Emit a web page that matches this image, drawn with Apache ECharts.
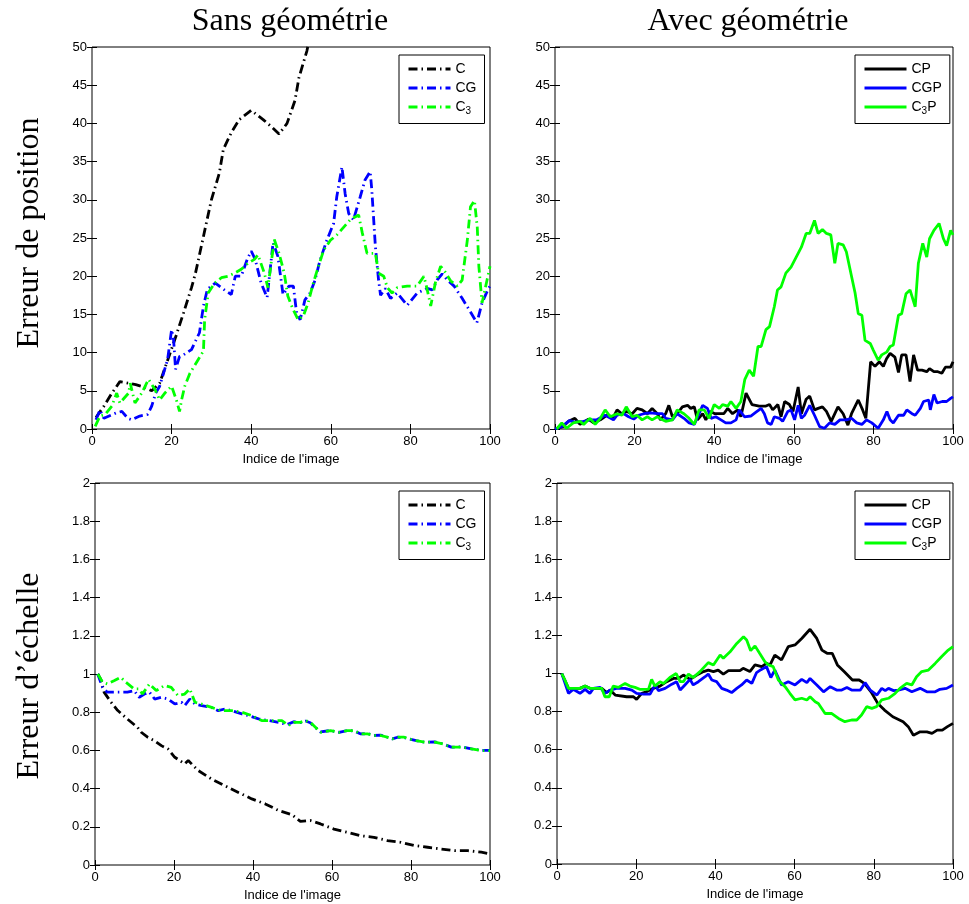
<!DOCTYPE html>
<html>
<head>
<meta charset="utf-8">
<script src="https://cdn.jsdelivr.net/npm/echarts@6/dist/echarts.min.js"></script>
<style>
  html, body { margin: 0; padding: 0; background: #fff; }
  #chart { width: 969px; height: 904px; }
</style>
</head>
<body>
<div id="chart"></div>
<script>
// Position error (top row), frame index vs error
const posC = [[1,1.5],[3,3],[5,4.7],[7,6.2],[9,6],[11,5.8],[13,5.5],[15,5],[17,6],[19,9],[21,12],[23,15.2],[25,18.5],[26,20.4],[28,25.2],[30,30],[32,33.5],[33,36.6],[35,38.8],[37,40.5],[40,41.7],[43,40.5],[45,39.6],[47,38.6],[49,40],[51,43],[52,46],[54,49.5],[55,52]];
const posCG = [[1,1.2],[2,2.5],[3,1.4],[6,2.1],[7.5,2.3],[9,1.4],[10,1.2],[12,1.7],[14,1.9],[15,3],[16,4.7],[17,5.6],[19,9.1],[20,13],[20.5,11.7],[21,7.8],[22,9.5],[23,9.7],[25,10.4],[27,12.6],[28,16.1],[29,18.3],[31,19.1],[33,18.3],[35,17.6],[36,20],[37.5,20],[39,22.2],[40,23.3],[41,22.2],[42.5,19.1],[44,17.2],[45.5,24.4],[46.7,22.6],[48,17.6],[49.5,18.7],[50.6,18.7],[51.4,15.2],[52.3,14.3],[53.5,16.9],[54.8,17.8],[56,19.4],[57.3,22.1],[59,24.7],[60.7,26.9],[61.5,30.4],[62.8,34.3],[63.6,30.8],[64.5,28.2],[65.7,27.4],[67.4,30.4],[68.6,32.6],[69.9,33.7],[70.3,31.3],[71.2,23.9],[72,19.5],[72.5,17.5],[73.7,18.4],[75,17.1],[76.7,17.8],[79.2,16.2],[81.7,17.8],[84.2,18.4],[85.5,18.2],[86.7,19.5],[88,20.3],[89.3,19.5],[91,18.7],[93,17.1],[95,15.4],[96.7,13.9],[98,16.5],[99.6,18.4],[100,18.7]];
const posC3 = [[0.8,0.35],[2,1.7],[3.3,1.9],[5,3],[6.2,4.7],[7,3.4],[9.2,4.7],[9.6,6],[10.8,3.4],[12.5,4.7],[14.2,6.5],[15.8,5.2],[17,3.8],[18.3,4.7],[20,5.6],[21.2,3.8],[22,2.3],[22.5,3.8],[23.3,5.6],[24.6,7.3],[26.7,9.1],[28,10.2],[28.3,14.3],[29.2,17.8],[30.8,19.1],[32.5,19.8],[34.2,20],[35.8,20.4],[37.5,20.9],[39.2,21.7],[40.8,22.2],[41.7,22.8],[43.3,20.4],[44.2,18.5],[45.8,24.8],[47,23],[48.3,20.4],[49.2,17.4],[50.4,15.8],[51.8,14.3],[53.1,14.8],[54.3,16.5],[55.6,19.1],[56.9,21.3],[58.2,23.4],[59.9,24.7],[61.5,25.4],[63.2,26.4],[64.9,27.4],[67,28],[67.9,25.7],[69.1,23],[71.2,23],[72,20.4],[73.3,20],[74.2,18.5],[75.4,17.8],[76.7,18.5],[79.2,18.7],[81.7,18.7],[83.4,20],[84.2,18.3],[85.1,16.1],[86.3,19.2],[87.6,21.3],[88.8,20.5],[90.1,19.4],[91.8,18.7],[93,19.5],[94.3,24.7],[95.1,29.1],[96.1,29.9],[96.8,26.4],[97.2,21.3],[98,16.5],[99.3,19.6],[100,21.3]];

const posCP = [[0,0],[2,0.3],[3.4,1],[5,1.4],[6.3,0.6],[8.4,1.3],[9.7,0.8],[11.4,1.2],[13,1.8],[14.7,1.6],[15.6,2.5],[16.8,2],[18,2.3],[19.4,2],[20.6,2.7],[21.9,2.5],[23.2,2],[24.4,2.7],[25.7,2],[26.5,1.2],[27.8,2],[28.6,3.1],[29.5,1.6],[30.7,2],[32,2.9],[33.3,3.1],[34.1,2.7],[35,2.9],[35.8,1.2],[37.1,2],[37.9,1.2],[39,2.3],[40.2,2],[41.3,2],[42.4,2],[43.4,2.7],[44.6,2],[45.9,2.5],[46.7,1.6],[48,4.7],[49.5,3.2],[51.3,3],[53,3],[53.9,3.2],[54.7,2.5],[56,3.2],[56.8,1.6],[57.7,3.6],[58.9,3.2],[59.8,2.3],[61.1,5.5],[61.9,2],[63.1,3.9],[64,4.3],[65.2,2.5],[66.1,2.7],[67.2,2.9],[68.2,2.3],[69.4,1],[71.1,2.9],[72.4,2],[73.6,0.5],[74.5,2],[76.2,3.8],[77.3,2.5],[78.1,1.4],[79.3,8.8],[80.4,8.2],[81.5,8.8],[82.5,8.2],[83.3,9.2],[84.2,9.9],[85.4,9.4],[86.3,7.4],[87.1,9.7],[88.2,9.7],[89.2,6.2],[90.1,9.7],[91.1,7.7],[92.2,7.7],[93.4,7.5],[94.1,7.9],[95.2,7.5],[96.2,7.5],[97.2,7.3],[98.1,8.1],[99.4,8.1],[100,8.8]];
const posCGP = [[0,0],[1.7,0.3],[3.6,1.1],[5,0.9],[7.2,1],[8.8,1.2],[10.5,1.2],[12.6,1.8],[14.7,1.2],[15.6,1.8],[17.3,2],[18.5,1.6],[19.8,1.3],[21,1.8],[22.3,2],[24,2.1],[25.7,2],[27,2],[27.8,1.4],[29.5,1.2],[30.7,2],[32.4,1.4],[33.7,0.8],[35,0.6],[36.2,2],[37.1,3.1],[38.3,2.7],[39.2,1.4],[40.4,1.6],[41.7,1.2],[42.9,0.8],[44.2,0.8],[45.5,1.2],[46.3,2.5],[47.6,1.6],[49.2,1.7],[50.5,2.2],[51.8,2.7],[52.6,2],[53.4,0.8],[54.3,0.6],[55.1,1.6],[56.4,1.4],[57.2,1],[58.5,2.3],[59.3,2.5],[60.2,1.2],[61.1,3.1],[61.9,1.4],[62.7,1.8],[64,3.1],[65.2,1.8],[66.5,0.3],[67.7,0.1],[69,0.8],[70.3,0.6],[71.6,1.2],[73.2,1.2],[74.5,1.4],[75.8,0.8],[77.1,0.6],[78.3,1.2],[79.6,0.8],[81.2,0.1],[82.5,1.2],[83.4,2.3],[84.2,1.2],[85,0.8],[86.3,1.8],[87.6,1.8],[88.4,2.5],[89.7,2],[90.5,1.8],[91.8,2.7],[92.6,3.6],[93.9,3.8],[94.3,2.5],[95.2,4.5],[96,3.4],[97.3,3.6],[98.4,3.6],[99.4,4],[100,4.2]];
const posC3P = [[0.4,0],[1.7,0.8],[2.9,0.1],[4.6,0.8],[6.3,1],[7.2,0.6],[8.8,1.4],[10.1,0.6],[11.4,1.4],[12.6,2.5],[13.9,1.6],[15.6,2],[16.8,1.8],[17.9,2.9],[19.4,1.6],[20.6,1.8],[21.9,1.2],[23.2,1.6],[24.4,1.2],[25.7,1.6],[27,1.2],[27.8,1],[29.5,1.2],[30.7,2.5],[32.4,2],[33.7,1.4],[35,0.6],[36.2,2.5],[37.5,2.5],[38.7,1.4],[40,3.2],[41.3,2.7],[42.1,3.2],[43.4,3],[44.2,3.6],[45.5,2.7],[46.7,3.6],[47.7,6.5],[48.8,7.7],[49.9,6.9],[51,10.8],[51.8,10.8],[53,13],[53.9,13.4],[55.1,16],[55.9,18.2],[56.8,18.6],[58,20.4],[59.3,21.2],[60.6,22.5],[61.9,23.8],[63.1,25.6],[64,25.6],[65.2,27.3],[66.1,25.6],[67.2,26.1],[68.2,25.6],[69.3,25.4],[70.3,21.7],[71.1,24.3],[72.4,24.1],[73.2,23.2],[74.5,20],[75.4,17.8],[76.2,15.1],[77.1,14.9],[77.9,11.6],[79.2,11.2],[80,10.3],[81.2,9],[82.1,9.7],[83.4,10.1],[84.2,10.8],[85,11],[86.3,14.9],[87.1,15.1],[88.2,17.7],[89.2,18.2],[90.5,16],[91.3,21.7],[92.4,24.3],[93.4,22.5],[94.1,24.9],[95.2,26],[96.5,26.9],[97.6,24.9],[98.4,24],[99.4,26],[100,25.4]];

// Scale error (bottom row)
const scaleC = [[0.7,1],[1.5,0.97],[2.3,0.905],[4,0.854],[5.7,0.81],[8.2,0.764],[10.8,0.72],[11.7,0.695],[13.4,0.668],[15.1,0.65],[16.8,0.625],[18.5,0.607],[20.2,0.564],[22.7,0.53],[23.6,0.547],[26.1,0.495],[29.5,0.45],[32.9,0.415],[36.3,0.38],[39.7,0.346],[43.1,0.32],[46.5,0.285],[49.9,0.263],[52,0.228],[54.5,0.233],[57.1,0.215],[60.5,0.188],[63.9,0.171],[67.3,0.153],[70.6,0.145],[74,0.128],[77.4,0.119],[80.8,0.102],[84.2,0.093],[87.6,0.084],[91,0.075],[94.4,0.075],[97.8,0.067],[100,0.058]];
const scaleCG = [[0.7,1],[1.9,0.93],[3.1,0.905],[5.7,0.905],[8.2,0.905],[9.9,0.913],[11.2,0.878],[12.5,0.895],[13.8,0.905],[15.1,0.869],[16.8,0.878],[18.5,0.869],[20.2,0.843],[21.9,0.852],[22.7,0.834],[24,0.869],[25.3,0.843],[27,0.834],[29.5,0.825],[31.2,0.808],[32.9,0.817],[34.6,0.808],[37.2,0.791],[38.9,0.782],[41.4,0.765],[44,0.756],[46.5,0.747],[48.6,0.735],[50.3,0.75],[52,0.745],[53.3,0.754],[54.5,0.745],[55.8,0.72],[57.1,0.697],[59.6,0.704],[61.8,0.695],[63.9,0.704],[65.6,0.702],[67.3,0.686],[69,0.688],[70.6,0.678],[72.3,0.68],[74,0.669],[75.3,0.66],[76.6,0.669],[78.3,0.667],[79.6,0.66],[81.3,0.651],[83.4,0.643],[86,0.645],[88.1,0.634],[90.2,0.617],[92.8,0.619],[95.3,0.608],[97.8,0.6],[100,0.6]];
const scaleC3 = [[0.7,1],[1.9,0.957],[3.1,0.948],[4.8,0.965],[6.5,0.983],[7.8,0.957],[9.9,0.922],[11.2,0.922],[12,0.895],[13.8,0.948],[15.5,0.913],[17.6,0.94],[19.3,0.93],[21,0.887],[22.7,0.895],[24,0.922],[25.3,0.852],[27,0.843],[29.5,0.825],[32,0.808],[34.6,0.808],[37.2,0.8],[39.7,0.782],[42.2,0.756],[44.8,0.756],[47.3,0.756],[49,0.73],[50.3,0.747],[52,0.747],[53.3,0.756],[54.5,0.747],[55.8,0.721],[57.1,0.695],[59.6,0.704],[61.8,0.695],[63.9,0.704],[65.6,0.704],[67.3,0.686],[69,0.686],[70.6,0.678],[72.3,0.678],[74,0.669],[75.3,0.66],[76.6,0.669],[78.3,0.669],[79.6,0.66],[81.3,0.651],[83.4,0.643],[86,0.643],[88.1,0.634],[90.2,0.617],[92.8,0.617],[95.3,0.608],[97.8,0.599],[100,0.599]];

const scaleCP = [[1.2,1],[2.9,0.922],[4.5,0.922],[5.8,0.922],[7.1,0.934],[8.3,0.922],[10,0.922],[11.3,0.922],[12.5,0.9],[13.4,0.913],[14.7,0.887],[15,0.878],[17.6,0.878],[19.3,0.878],[20.1,0.864],[21.4,0.896],[22.6,0.904],[24.3,0.922],[26,0.934],[27.7,0.957],[29.4,0.974],[30.7,0.974],[31.9,0.992],[33.6,0.969],[35.3,0.992],[37,1.01],[38.2,1.018],[39.5,1.01],[40.7,1.018],[42,0.997],[43.3,1.015],[44.5,1.015],[46.2,1.015],[47,1.027],[48.7,1.01],[50,1.045],[51.7,1.036],[52.9,1.053],[53.8,1.045],[55,1.097],[56.7,1.071],[58.4,1.141],[60.1,1.15],[61.8,1.184],[63.9,1.232],[65.6,1.184],[66.9,1.123],[68.2,1.106],[69.5,1.106],[70.8,1.045],[72.5,1.01],[74.6,0.966],[76.3,0.966],[77.6,0.948],[79.3,0.904],[81,0.843],[82.7,0.808],[84.8,0.773],[87.4,0.747],[88.7,0.721],[90,0.676],[91.7,0.694],[93.4,0.694],[94.7,0.686],[96,0.703],[97.3,0.703],[98.6,0.721],[100,0.738]];
const scaleCGP = [[1.2,1],[2.9,0.896],[4.1,0.917],[5.8,0.896],[7.1,0.917],[8.3,0.896],[9.2,0.922],[10.9,0.927],[12.1,0.896],[13.4,0.913],[15,0.922],[17.2,0.922],[18.9,0.913],[20.1,0.896],[21.8,0.892],[23.5,0.892],[24.8,0.94],[25.6,0.91],[27.3,0.922],[29,0.944],[30.2,0.957],[31.1,0.913],[32.3,0.94],[33.6,0.969],[34.4,0.94],[35.7,0.957],[37.4,0.983],[38.2,0.997],[39.1,0.966],[40.3,0.957],[41.6,0.922],[42.8,0.913],[44.1,0.9],[45.4,0.922],[46.6,0.94],[47.9,0.966],[49.2,0.948],[50.4,1.005],[51.5,1.02],[52.9,1.036],[54,0.979],[55,1.018],[56.7,0.94],[58.4,0.957],[60.1,0.94],[61.8,0.969],[63.1,0.952],[63.9,0.974],[65.6,0.94],[67.3,0.904],[69,0.931],[70.6,0.913],[71.9,0.913],[73.2,0.927],[74.4,0.913],[76.6,0.913],[77.8,0.952],[79.1,0.913],[80.8,0.887],[82,0.922],[82.9,0.91],[83.7,0.922],[85,0.91],[86.2,0.913],[87.9,0.922],[89.6,0.904],[91.7,0.922],[93.4,0.904],[95.5,0.904],[96.7,0.917],[98.4,0.922],[100,0.94]];
const scaleC3P = [[1.2,1],[2,0.965],[2.9,0.922],[4.5,0.922],[5.8,0.922],[7.1,0.934],[8.3,0.922],[10,0.922],[11.3,0.922],[12.1,0.878],[13.2,0.878],[14.2,0.934],[15.5,0.927],[17.2,0.948],[18.4,0.934],[19.7,0.927],[20.9,0.917],[23.1,0.917],[23.9,0.969],[24.7,0.934],[26,0.957],[26.9,0.948],[28.5,0.979],[30.1,1],[31.1,0.957],[31.9,0.957],[33.2,0.997],[34.4,0.979],[36.1,1.01],[38.2,1.057],[39.5,1.045],[41.2,1.097],[42,1.08],[43.7,1.114],[45.4,1.158],[47.1,1.193],[47.9,1.176],[48.9,1.12],[50,1.145],[51.2,1.105],[52.5,1.062],[53.4,1.045],[54.6,1.036],[55.9,0.966],[57.6,0.931],[58.8,0.896],[60.1,0.861],[61.8,0.87],[63.1,0.861],[63.9,0.878],[65.2,0.852],[66,0.843],[67.7,0.79],[69.4,0.79],[71.1,0.764],[72.7,0.747],[74.4,0.756],[75.7,0.756],[76.9,0.782],[78.2,0.826],[79.5,0.817],[80.7,0.826],[82,0.861],[83.7,0.87],[85.4,0.896],[86.6,0.922],[88.3,0.948],[89.6,0.94],[90.8,0.983],[92.1,1.01],[93.8,1.018],[95.5,1.053],[97.1,1.088],[98.8,1.123],[100,1.141]];

// Axis settings
const xRange = { min: 0, max: 100, interval: 20 };
const posRange = { min: 0, max: 50, interval: 5 };
const scaleRange = { min: 0, max: 2, interval: 0.2 };
const xName = "Indice de l'image";
const colTitles = ['Sans géométrie', 'Avec géométrie'];
const rowTitles = ['Erreur de position', 'Erreur d’échelle'];
const namesPlain = ['C', 'CG', 'C3'];
const namesGeo = ['CP', 'CGP', 'C3P'];

const BLACK = '#000000', BLUE = '#0000ff', GREEN = '#00ff00';
const DASHDOT = [9, 4, 1.5, 4];
const LINE_W = 2.8;
const SANS = '"Liberation Sans", Arial, sans-serif';
const SERIF = '"Liberation Serif", "Times New Roman", serif';

const grids = [
  { left: 92, top: 47, width: 398, height: 382 },
  { left: 555, top: 47, width: 398, height: 382 },
  { left: 95, top: 483, width: 395, height: 382 },
  { left: 557, top: 483, width: 396, height: 381 }
].map(g => Object.assign({ show: true, borderColor: '#000', borderWidth: 1, backgroundColor: '#fff', containLabel: false }, g));

const labelStyle = { color: '#000', fontSize: 13, fontFamily: SANS };
const tickStyle = { inside: true, length: 5, lineStyle: { color: '#000' } };

function bottomAxis(i) {
  return Object.assign({
    type: 'value', gridIndex: i, position: 'bottom',
    name: xName, nameLocation: 'middle', nameGap: 24,
    nameTextStyle: { color: '#000', fontSize: 13, fontFamily: SANS },
    axisLine: { show: false }, splitLine: { show: false },
    axisTick: tickStyle,
    axisLabel: Object.assign({ margin: 6 }, labelStyle)
  }, xRange);
}
function topAxis(i) {
  return Object.assign({
    type: 'value', gridIndex: i, position: 'top',
    axisLine: { show: false }, splitLine: { show: false },
    axisTick: tickStyle, axisLabel: { show: false }
  }, xRange);
}
function leftAxis(i, range) {
  return Object.assign({
    type: 'value', gridIndex: i, position: 'left',
    axisLine: { show: false }, splitLine: { show: false },
    axisTick: tickStyle,
    axisLabel: Object.assign({ margin: 5 }, labelStyle)
  }, range);
}
function rightAxis(i, range) {
  return Object.assign({
    type: 'value', gridIndex: i, position: 'right',
    axisLine: { show: false }, splitLine: { show: false },
    axisTick: tickStyle, axisLabel: { show: false }
  }, range);
}

function line(name, data, color, dashed, panel) {
  return {
    type: 'line', name: name, data: data,
    xAxisIndex: panel, yAxisIndex: panel,
    symbol: 'none', showSymbol: false, clip: true, animation: false,
    lineStyle: { color: color, width: LINE_W, type: dashed ? DASHDOT : 'solid' },
    itemStyle: { color: color }
  };
}

function subFormatter(name) {
  return name.replace('C3', 'C{sub|3}');
}
function legendAt(names, left, top) {
  return {
    data: names, left: left, top: top, orient: 'vertical',
    itemWidth: 42, itemHeight: 14, itemGap: 5,
    padding: [7, 8, 7, 8], borderColor: '#000', borderWidth: 1,
    backgroundColor: '#fff', selectedMode: false,
    // only the line sample is shown, the marker symbol is hidden
    itemStyle: { opacity: 0, borderWidth: 0 },
    lineStyle: { width: 3 },
    formatter: subFormatter,
    textStyle: {
      color: '#000', fontSize: 14, fontFamily: SANS,
      rich: { sub: { fontSize: 10, fontFamily: SANS, color: '#000', padding: [9, 0, 0, 0] } }
    }
  };
}

const titleFont = '32px ' + SERIF;
const option = {
  backgroundColor: '#fff',
  animation: false,
  grid: grids,
  xAxis: [0, 1, 2, 3].map(bottomAxis).concat([0, 1, 2, 3].map(topAxis)),
  yAxis: [leftAxis(0, posRange), leftAxis(1, posRange), leftAxis(2, scaleRange), leftAxis(3, scaleRange),
          rightAxis(0, posRange), rightAxis(1, posRange), rightAxis(2, scaleRange), rightAxis(3, scaleRange)],
  legend: [
    legendAt(namesPlain, 399, 55),
    legendAt(namesGeo, 855, 55),
    legendAt(namesPlain, 399, 491),
    legendAt(namesGeo, 855, 491)
  ],
  graphic: [
    { type: 'text', x: 290, y: 22, style: { text: colTitles[0], font: titleFont, fill: '#000', textAlign: 'center', textVerticalAlign: 'middle' } },
    { type: 'text', x: 748, y: 22, style: { text: colTitles[1], font: titleFont, fill: '#000', textAlign: 'center', textVerticalAlign: 'middle' } },
    { type: 'text', x: 30, y: 233, rotation: Math.PI / 2, style: { text: rowTitles[0], font: titleFont, fill: '#000', textAlign: 'center', textVerticalAlign: 'middle' } },
    { type: 'text', x: 30, y: 676, rotation: Math.PI / 2, style: { text: rowTitles[1], font: titleFont, fill: '#000', textAlign: 'center', textVerticalAlign: 'middle' } }
  ],
  series: [
    line('C', posC, BLACK, true, 0),
    line('CG', posCG, BLUE, true, 0),
    line('C3', posC3, GREEN, true, 0),
    line('CP', posCP, BLACK, false, 1),
    line('CGP', posCGP, BLUE, false, 1),
    line('C3P', posC3P, GREEN, false, 1),
    line('C', scaleC, BLACK, true, 2),
    line('CG', scaleCG, BLUE, true, 2),
    line('C3', scaleC3, GREEN, true, 2),
    line('CP', scaleCP, BLACK, false, 3),
    line('CGP', scaleCGP, BLUE, false, 3),
    line('C3P', scaleC3P, GREEN, false, 3)
  ]
};

const chart = echarts.init(document.getElementById('chart'), null, { renderer: 'canvas' });
chart.setOption(option);
</script>
</body>
</html>
